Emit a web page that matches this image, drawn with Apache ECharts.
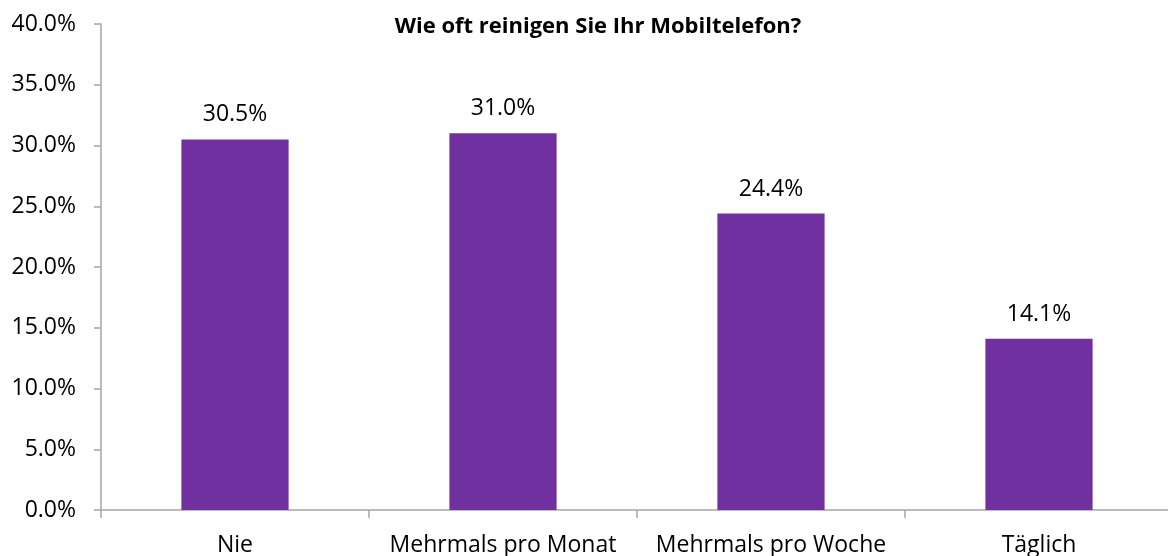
<!DOCTYPE html>
<html>
<head>
<meta charset="utf-8">
<script src="https://cdn.jsdelivr.net/npm/echarts@6/dist/echarts.min.js"></script>
<style>
html,body{margin:0;padding:0;background:#fff;}
#main{width:1168px;height:556px;}
</style>
</head>
<body>
<div id="main"></div>
<script>
var categories = ['Nie', 'Mehrmals pro Monat', 'Mehrmals pro Woche', 'Täglich'];
var values = [30.5, 31.0, 24.4, 14.1];
var titleText = 'Wie oft reinigen Sie Ihr Mobiltelefon?';

var myChart = echarts.init(document.getElementById('main'));
var fontName = '"Open Sans", "Noto Sans", sans-serif';

var option = {
    backgroundColor: '#fff',
    animation: false,
    title: {
        text: titleText,
        left: 593,
        top: 11,
        textAlign: 'center',
        textStyle: {
            fontFamily: fontName,
            fontSize: 22,
            fontWeight: 'bold',
            color: '#000'
        }
    },
    grid: {
        left: 101,
        width: 1072,
        top: 24,
        bottom: 46,
        outerBoundsMode: 'none',
        containLabel: false
    },
    xAxis: {
        type: 'category',
        data: categories,
        axisLine: {lineStyle: {color: '#a6a6a6', width: 1.5}},
        axisTick: {show: true, interval: 0, length: 8, lineStyle: {color: '#a6a6a6', width: 1.5}},
        axisLabel: {
            interval: 0,
            hideOverlap: false,
            margin: 24,
            color: '#000',
            fontFamily: fontName,
            fontSize: 23
        },
        splitLine: {show: false}
    },
    yAxis: {
        type: 'value',
        min: 0,
        max: 40,
        interval: 5,
        axisLine: {show: true, lineStyle: {color: '#a6a6a6', width: 1.5}},
        axisTick: {show: true, length: 7, lineStyle: {color: '#a6a6a6', width: 1.5}},
        axisLabel: {
            margin: 25,
            color: '#000',
            fontFamily: fontName,
            fontSize: 23,
            formatter: function (v) { return v.toFixed(1) + '%'; }
        },
        splitLine: {show: false}
    },
    series: [
        {
            type: 'bar',
            data: values,
            barWidth: '40%',
            itemStyle: {color: '#7030a0'},
            label: {
                show: true,
                position: 'top',
                distance: 13,
                color: '#000',
                fontFamily: fontName,
                fontSize: 23,
                formatter: function (p) { return p.value.toFixed(1) + '%'; }
            }
        }
    ]
};

myChart.setOption(option);
</script>
</body>
</html>
